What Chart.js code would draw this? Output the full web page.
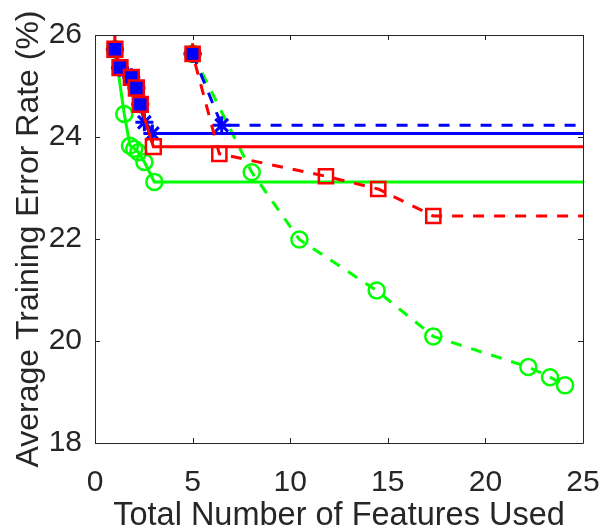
<!DOCTYPE html>
<html>
<head>
<meta charset="utf-8">
<script src="https://cdn.jsdelivr.net/npm/chart.js@4/dist/chart.umd.min.js"></script>
<style>
  html, body { margin: 0; padding: 0; background: #ffffff; }
  #wrap { width: 604px; height: 531px; }
</style>
</head>
<body>
<div id="wrap"><canvas id="c" width="604" height="531"></canvas></div>
<script>
// ---- data ----
const xTicks = [0, 5, 10, 15, 20, 25];
const yTicks = [18, 20, 22, 24, 26];

// solid lines
const blueSolidX  = [1.02, 1.28, 1.86, 2.12, 2.32, 2.53, 2.94, 25];
const blueSolidY  = [25.72, 25.36, 25.17, 24.96, 24.64, 24.29, 24.07, 24.07];
const redSolidX   = [1.00, 1.02, 1.28, 1.86, 2.12, 2.32, 2.99, 25];
const redSolidY   = [26.40, 25.72, 25.36, 25.17, 24.96, 24.64, 23.81, 23.81];
const greenSolidX = [1.02, 1.50, 1.79, 2.01, 2.22, 2.53, 3.04, 25];
const greenSolidY = [25.72, 24.45, 23.83, 23.77, 23.70, 23.51, 23.12, 23.12];

// dashed lines
const blueDashX  = [5.00, 6.49, 25];
const blueDashY  = [25.63, 24.23, 24.23];
const redDashX   = [5.00, 5.00, 6.37, 11.83, 14.51, 17.33, 25];
const redDashY   = [26.25, 25.63, 23.67, 23.23, 22.98, 22.45, 22.45];
const greenDashX = [5.00, 8.03, 10.47, 14.43, 17.33, 22.20, 23.31, 24.08];
const greenDashY = [25.63, 23.31, 21.99, 20.99, 20.09, 19.49, 19.29, 19.13];

// ---- styling ----
const BLUE = '#0000ff', RED = '#ff0000', GREEN = '#00ff00', AX = '#262626';
const FONT = '"Liberation Sans", Arial, Helvetica, sans-serif';

function pts(xs, ys) { return xs.map((x, i) => ({ x: x, y: ys[i] })); }
const lastIdx = xs => xs.length - 1;

const blueAll = pts(blueSolidX, blueSolidY).concat(pts(blueDashX, blueDashY));
function sharedWithBlue(p) {
  return blueAll.some(q => Math.abs(q.x - p.x) < 1e-9 && Math.abs(q.y - p.y) < 1e-9);
}

function markerRadius(r, xs) {
  return ctx => {
    const p = ctx.raw;
    if (!p) return 0;
    if (p.y > 26) return 0;
    if (ctx.dataIndex === lastIdx(xs) && p.x === 25) return 0;
    return r;
  };
}

function ds(xs, ys, color, style, radius, dashed, fillFn, mw) {
  return {
    data: pts(xs, ys),
    borderColor: color,
    borderWidth: 3,
    borderDash: dashed ? [11, 10] : [],
    pointStyle: style,
    pointRadius: markerRadius(radius, xs),
    pointBorderColor: color,
    pointBorderWidth: mw || 2.5,
    pointBackgroundColor: fillFn || 'rgba(0,0,0,0)',
    pointHoverRadius: 0,
    tension: 0,
    fill: false,
    showLine: true
  };
}

const redFill = ctx => (ctx.raw && sharedWithBlue(ctx.raw)) ? BLUE : 'rgba(0,0,0,0)';

const datasets = [
  ds(redSolidX, redSolidY, RED, 'rect', 10.5, false, redFill),
  ds(redDashX, redDashY, RED, 'rect', 10, true, redFill),
  ds(blueSolidX, blueSolidY, BLUE, 'star', 9, false, null, 3),
  ds(blueDashX, blueDashY, BLUE, 'star', 9, true, null, 3),
  ds(greenSolidX, greenSolidY, GREEN, 'circle', 8, false),
  ds(greenDashX, greenDashY, GREEN, 'circle', 8, true)
];

const boxPlugin = {
  id: 'boxTicks',
  afterDatasetsDraw(chart) {
    const { ctx, chartArea: a, scales } = chart;
    ctx.save();
    ctx.strokeStyle = AX;
    ctx.lineWidth = 1;
    ctx.beginPath();
    ctx.rect(Math.round(a.left) + 0.5, Math.round(a.top) + 0.5,
             Math.round(a.right - a.left), Math.round(a.bottom - a.top));
    ctx.stroke();
    const L = 5;
    ctx.beginPath();
    scales.x.ticks.forEach(t => {
      const px = Math.round(scales.x.getPixelForValue(t.value)) + 0.5;
      ctx.moveTo(px, a.bottom); ctx.lineTo(px, a.bottom - L);
      ctx.moveTo(px, a.top); ctx.lineTo(px, a.top + L);
    });
    scales.y.ticks.forEach(t => {
      const py = Math.round(scales.y.getPixelForValue(t.value)) + 0.5;
      ctx.moveTo(a.left, py); ctx.lineTo(a.left + L, py);
      ctx.moveTo(a.right, py); ctx.lineTo(a.right - L, py);
    });
    ctx.stroke();
    ctx.restore();
  }
};

new Chart(document.getElementById('c'), {
  type: 'line',
  data: { datasets: datasets },
  plugins: [boxPlugin],
  options: {
    responsive: false,
    animation: false,
    events: [],
    layout: { padding: { left: 0, top: 35, right: 21, bottom: 0 } },
    plugins: { legend: { display: false }, tooltip: { enabled: false } },
    scales: {
      x: {
        type: 'linear',
        min: 0, max: 25,
        afterBuildTicks: s => { s.ticks = xTicks.map(v => ({ value: v })); },
        afterFit: s => { s.height = 88; s.paddingLeft = 0; s.paddingRight = 0; },
        grid: { display: false, drawTicks: false },
        border: { display: false },
        ticks: { color: AX, font: { family: FONT, size: 30 }, padding: 22, maxRotation: 0 },
        title: {
          display: true,
          text: 'Total Number of Features Used',
          color: AX,
          font: { family: FONT, size: 32.5, lineHeight: 0.9 },
          padding: { top: 0, bottom: 0 }
        }
      },
      y: {
        type: 'linear',
        min: 18, max: 26,
        afterBuildTicks: s => { s.ticks = yTicks.map(v => ({ value: v })); },
        afterFit: s => { s.width = 95; s.paddingTop = 0; s.paddingBottom = 0; },
        grid: { display: false, drawTicks: false },
        border: { display: false },
        ticks: { color: AX, font: { family: FONT, size: 30 }, padding: 13 },
        title: {
          display: true,
          text: 'Average Training Error Rate (%)',
          color: AX,
          font: { family: FONT, size: 32, lineHeight: 1 },
          padding: { top: 13, bottom: 0 }
        }
      }
    }
  }
});
</script>
</body>
</html>
